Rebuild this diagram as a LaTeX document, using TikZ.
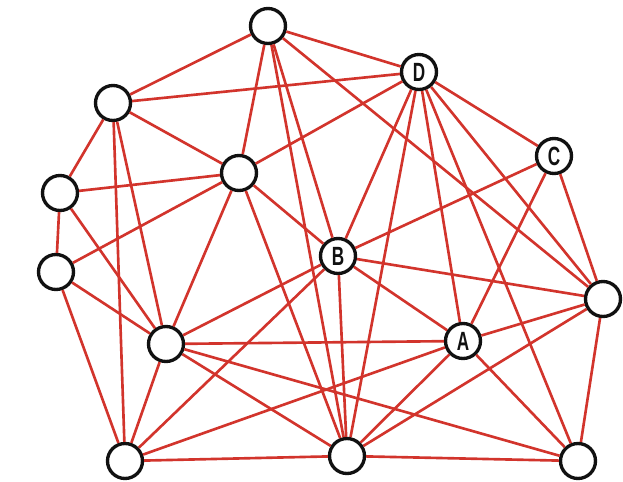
\documentclass[tikz,border=0pt]{standalone}
\usepackage{fontspec}
\setsansfont{Liberation Sans}
\usepackage{xcolor}
\definecolor{edge-red}{HTML}{D2342C}
\definecolor{jet}{HTML}{111111}

\begin{document}
\begin{tikzpicture}[every node/.style={font=\sffamily\bfseries\fontsize{15}{17}\selectfont},
    vtx/.style={draw=jet, circle, line width=1.9pt, fill=white,
      minimum size=0.70cm, inner sep=0pt, text=jet},
    link/.style={draw=edge-red, line width=1.5pt}]
    \useasboundingbox (0,0) rectangle (12.46,-9.64);
    % vertices
    \node[vtx] (t) at (5.36, -0.52) {};
    \node[vtx] (d) at (8.38, -1.44) {\scalebox{0.65}[1]{D}};
    \node[vtx] (la) at (2.26, -2.06) {};
    \node[vtx] (c) at (11.08, -3.12) {\scalebox{0.65}[1]{C}};
    \node[vtx] (m) at (4.78, -3.46) {};
    \node[vtx] (lb) at (1.20, -3.86) {};
    \node[vtx] (lc) at (1.12, -5.44) {};
    \node[vtx] (b) at (6.76, -5.12) {\scalebox{0.65}[1]{B}};
    \node[vtx] (r) at (12.06, -5.98) {};
    \node[vtx] (k) at (3.32, -6.88) {};
    \node[vtx] (a) at (9.26, -6.82) {\scalebox{0.65}[1]{A}};
    \node[vtx] (bl) at (2.50, -9.22) {};
    \node[vtx] (bm) at (6.94, -9.12) {};
    \node[vtx] (br) at (11.56, -9.22) {};
    % edges
    \foreach \u/\v in {t/la, t/d, t/m, t/b, t/bm, t/r,
        d/la, d/m, d/c, d/b, d/bm, d/a, d/br, d/r,
        c/b, c/a, c/r,
        r/b, r/a, r/bm, r/br,
        a/b, a/k, a/bl, a/bm, a/br,
        b/m, b/k, b/bl, b/bm,
        m/la, m/lb, m/lc, m/k, m/bm,
        la/lb, la/k, la/bl,
        lb/lc, lb/k,
        lc/k, lc/bl,
        k/bl, k/bm, k/br,
        bl/bm, bm/br}
      \draw[link] (\u) -- (\v);
  \end{tikzpicture}
\end{document}
